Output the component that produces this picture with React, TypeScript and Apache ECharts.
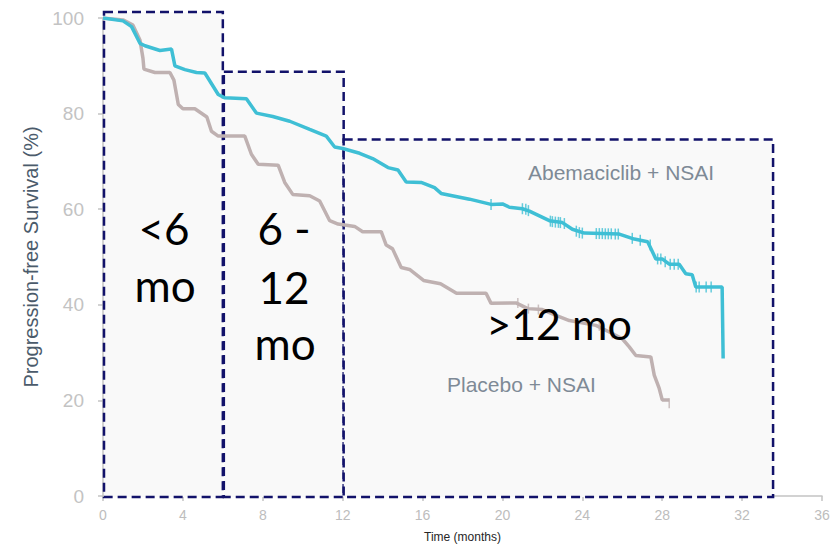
import React, { useEffect, useRef } from "react";
import * as echarts from "echarts";

// Kaplan–Meier curves (months, % PFS)
const abemaPoints: [number, number][] = [
  [0, 100], [1.0, 99.4], [1.43, 98.2], [1.85, 94.7], [2.1, 94.2], [2.85, 93.2], [3.43, 93.5], [3.6, 90],
  [4.1, 89.2], [4.68, 88.6], [5.1, 88.5], [5.77, 84], [6.1, 83.3], [7.18, 83.1], [7.68, 80.1], [8.5, 79.4],
  [9.35, 78.4], [10.35, 76.7], [11.18, 75.3], [11.6, 73], [12.0, 72.7], [12.85, 71.7], [13.5, 70.6],
  [14.27, 68.7], [14.77, 68.2], [15.18, 65.7], [15.93, 65.6], [16.6, 64.5], [16.93, 63.3], [18.35, 62.1],
  [19.43, 61.0], [20.0, 61.1], [20.35, 60.4], [21.0, 60.1], [21.35, 59.6], [22.35, 57.6], [23.0, 57.2],
  [23.5, 55.8], [24.1, 55], [25.85, 54.8], [26.6, 53.75], [27.27, 53.2], [27.68, 49.6], [28.0, 49.6],
  [28.35, 48.5], [28.85, 48.5], [29.18, 46.5], [29.5, 46.3], [29.68, 43.7], [31.0, 43.7], [31.05, 28.75],
];

const placeboPoints: [number, number][] = [
  [0, 100], [1.0, 99.6], [1.5, 98.5], [1.85, 95.4], [2.0, 91.6], [2.05, 89.3], [2.6, 88.6], [3.35, 88.6],
  [3.55, 87], [3.77, 81.9], [4.0, 81.0], [4.6, 81.0], [5.2, 79.3], [5.43, 76.3], [5.77, 75.3], [7.1, 75.3],
  [7.43, 71.5], [7.77, 69.4], [8.77, 69.2], [9.1, 65.6], [9.5, 63.1], [10.35, 62.8], [10.85, 61.7],
  [11.35, 57.6], [11.77, 56.9], [12.6, 56.4], [13.0, 55.3], [13.93, 55.3], [14.18, 52.5], [14.5, 51.7],
  [14.93, 47.8], [15.35, 47.4], [16.05, 45.1], [16.9, 44.4], [17.7, 42.4], [19.18, 42.4], [19.43, 40.3],
  [20.68, 40.4], [21.27, 39.2], [22.0, 39.0], [22.68, 37.8], [23.35, 36.7], [24.68, 35.7], [25.5, 34.0],
  [26.0, 32.9], [26.35, 31.2], [26.68, 29.4], [27.43, 29.1], [27.6, 25.3], [27.85, 22.5], [28.0, 20.1],
  [28.35, 20.1],
];

// censor marks
const abemaCensor: [number, number][] = [
  [19.43, 61.0], [21.0, 60.1], [21.17, 60.0], [21.3, 59.7], [22.4, 57.5], [22.5, 57.4], [22.65, 57.3],
  [22.8, 57.25], [22.9, 57.2], [23.1, 57.0], [23.7, 55.4], [23.85, 55.1], [24.0, 55.0], [24.7, 54.9],
  [24.85, 54.9], [25.0, 54.9], [25.15, 54.85], [25.3, 54.85], [25.45, 54.85], [25.65, 54.8], [25.8, 54.8],
  [26.5, 53.9], [26.9, 53.5], [27.4, 52.5], [27.77, 49.6], [27.93, 49.6], [28.15, 49.0], [28.4, 48.5],
  [28.6, 48.5], [28.8, 48.5], [29.7, 43.7], [29.85, 43.7], [30.2, 43.7], [30.45, 43.7],
];
const placeboCensor: [number, number][] = [
  [20.77, 40.4], [21.3, 39.2], [21.8, 39.0], [24.85, 35.6], [25.5, 34.0], [28.35, 19.4],
];

// Time windows: [start, end, top %]
const windowBoxes: [number, number, number][] = [
  [0.05, 6.0, 101.25],
  [6.05, 12.05, 88.75],
  [12.05, 33.55, 74.6],
];

const xTicks = { min: 0, max: 36, interval: 4 };
const yTicks = { min: 0, max: 100, interval: 20 };

const TEAL = "#3fbfd5";
const MAUVE = "#bfb1b1";
const NAVY = "#12126a";
const AXIS = "#c3c3c3";
const BOXFONT = "Lato, 'Open Sans', sans-serif";
const ARIAL = "'Liberation Sans', Arial, sans-serif";

export default function App() {
  const ref = useRef<HTMLDivElement>(null);
  useEffect(() => {
    if (!ref.current) return;
    const chart = echarts.init(ref.current, null, { renderer: "svg" });
    chart.setOption({
      animation: false,
      backgroundColor: "#ffffff",
      grid: { left: 103, right: 11, top: 18, bottom: 50 },
      xAxis: {
        type: "value",
        min: xTicks.min,
        max: xTicks.max,
        interval: xTicks.interval,
        name: "Time (months)",
        nameLocation: "middle",
        nameGap: 35,
        nameTextStyle: { color: "#262626", fontSize: 12, fontFamily: ARIAL },
        axisLine: { lineStyle: { color: AXIS, width: 1.5 } },
        axisTick: { length: 5, lineStyle: { color: AXIS, width: 1.5 } },
        axisLabel: { color: "#bdbdbd", fontSize: 14, margin: 12, fontFamily: ARIAL },
        splitLine: { show: false },
      },
      yAxis: {
        type: "value",
        min: yTicks.min,
        max: yTicks.max,
        interval: yTicks.interval,
        name: "Progression-free Survival (%)",
        nameLocation: "middle",
        nameGap: 58,
        nameTextStyle: { color: "#4b5b6b", fontSize: 20, fontFamily: ARIAL },
        axisLine: { show: true, lineStyle: { color: AXIS, width: 1.5 } },
        axisTick: { show: true, length: 5, lineStyle: { color: AXIS, width: 1.5 } },
        axisLabel: { color: "#c3c3c3", fontSize: 19, margin: 19, fontFamily: ARIAL },
        splitLine: { show: false },
      },
      series: [
        {
          type: "custom",
          z: 1,
          clip: false,
          data: windowBoxes,
          encode: { x: [0, 1], y: 2 },
          renderItem: (params: any, api: any) => {
            const p0 = api.coord([api.value(0), api.value(2)]);
            const p1 = api.coord([api.value(1), 0]);
            return {
              type: "rect",
              shape: { x: p0[0], y: p0[1], width: p1[0] - p0[0], height: p1[1] - p0[1] + 1 },
              style: { fill: "#f9f9f9", stroke: NAVY, lineWidth: 2.5, lineDash: [9, 5] },
            };
          },
        },
        {
          type: "line",
          name: "Placebo + NSAI",
          z: 3,
          data: placeboPoints,
          showSymbol: false,
          symbol: "none",
          lineStyle: { color: MAUVE, width: 3.5 },
        },
        {
          type: "line",
          name: "Abemaciclib + NSAI",
          z: 4,
          data: abemaPoints,
          showSymbol: false,
          symbol: "none",
          lineStyle: { color: TEAL, width: 3.5 },
        },
        {
          type: "scatter",
          z: 3,
          data: placeboCensor,
          symbol: "rect",
          symbolSize: [1.5, 10],
          itemStyle: { color: MAUVE },
        },
        {
          type: "scatter",
          z: 4,
          data: abemaCensor,
          symbol: "rect",
          symbolSize: [1.5, 11],
          itemStyle: { color: TEAL },
        },
      ],
      graphic: [
        { type: "text", z: 10, x: 164, y: 228, style: { text: "<6", fontSize: 44, fontFamily: BOXFONT, fill: "#000", align: "center", verticalAlign: "middle" } },
        { type: "text", z: 10, x: 165, y: 285, style: { text: "mo", fontSize: 44, fontFamily: BOXFONT, fill: "#000", align: "center", verticalAlign: "middle" } },
        { type: "text", z: 10, x: 284, y: 228, style: { text: "6 -", fontSize: 44, fontFamily: BOXFONT, fill: "#000", align: "center", verticalAlign: "middle" } },
        { type: "text", z: 10, x: 284, y: 287, style: { text: "12", fontSize: 44, fontFamily: BOXFONT, fill: "#000", align: "center", verticalAlign: "middle" } },
        { type: "text", z: 10, x: 285, y: 343, style: { text: "mo", fontSize: 44, fontFamily: BOXFONT, fill: "#000", align: "center", verticalAlign: "middle" } },
        { type: "text", z: 10, x: 559, y: 323, style: { text: ">12 mo", fontSize: 43, fontFamily: BOXFONT, fill: "#000", align: "center", verticalAlign: "middle" } },
        { type: "text", z: 10, x: 528, y: 172, style: { text: "Abemaciclib + NSAI", fontSize: 21, fontFamily: ARIAL, fill: "#7e8a96", align: "left", verticalAlign: "middle" } },
        { type: "text", z: 10, x: 447, y: 384, style: { text: "Placebo + NSAI", fontSize: 21, fontFamily: ARIAL, fill: "#7e8a96", align: "left", verticalAlign: "middle" } },
      ],
    });
    return () => chart.dispose();
  }, []);
  return <div ref={ref} style={{ width: 833, height: 548, position: "absolute", left: 0, top: 0 }} />;
}
